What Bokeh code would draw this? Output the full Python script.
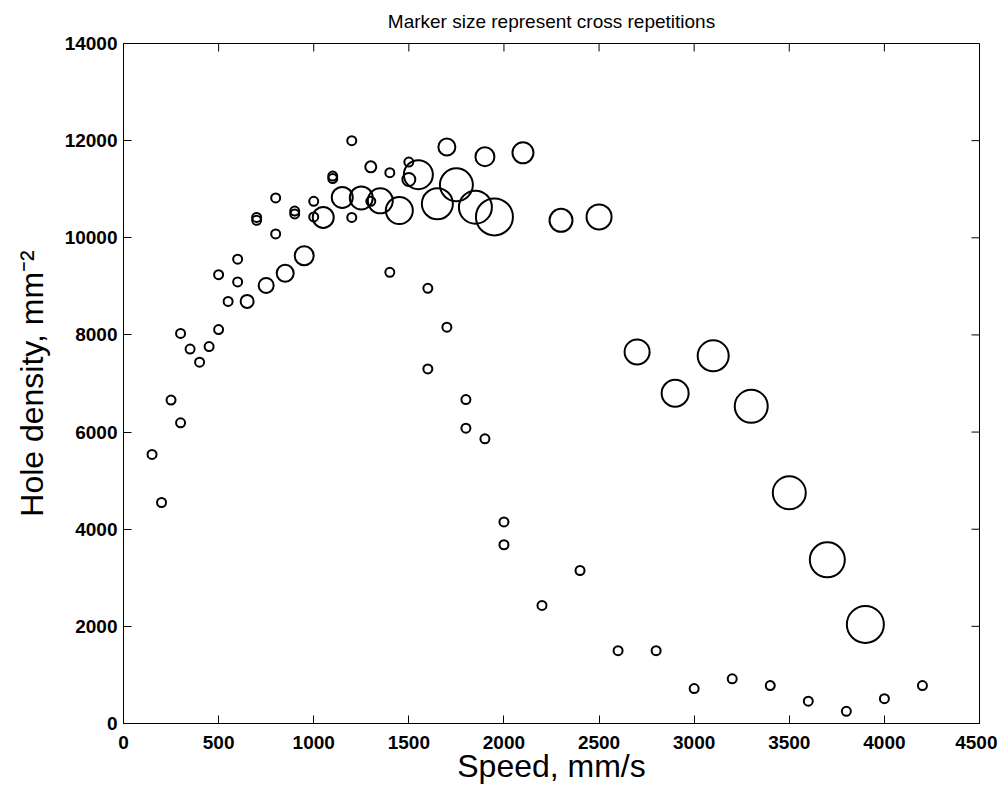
import math
from bokeh.plotting import figure
from bokeh.models import Range1d, FixedTicker, ColumnDataSource
from bokeh.embed import file_html
from bokeh.resources import INLINE

# ---- data ----
speed = [150, 200, 250, 300, 300, 350, 400, 450, 500, 500, 550, 600, 600,
         700, 700, 800, 800, 900, 900, 1000, 1000, 1100, 1100, 1200, 1200,
         1300, 1400, 1400, 1500, 1600, 1600, 1700, 1800, 1800, 1900, 2000,
         2000, 2200, 2400, 2600, 2800, 3000, 3200, 3400, 3600, 3800, 4000, 4200,
         1300,
         650, 750, 850, 950, 1050, 1150, 1250, 1350, 1450, 1550, 1650, 1750, 1850, 1950,
         1500, 1700, 1900, 2100, 2300, 2500, 2700, 2900, 3100, 3300, 3500, 3700, 3900]
density = [5540, 4550, 6660, 8030, 6190, 7710, 7440, 7760, 9240, 8110, 8690, 9560, 9090,
           10420, 10360, 10820, 10080, 10550, 10490, 10750, 10430, 11270, 11220, 12000, 10420,
           10750, 11340, 9290, 11560, 8960, 7300, 8160, 6670, 6080, 5860, 4150,
           3680, 2430, 3150, 1500, 1500, 720, 920, 780, 460, 250, 510, 780,
           11460,
           8690, 9020, 9270, 9630, 10420, 10830, 10820, 10760, 10560, 11300, 10700, 11090, 10630, 10430,
           11200, 11870, 11670, 11750, 10360, 10430, 7650, 6800, 7570, 6530, 4750, 3370, 2040]
repetitions = [1] * 48 + [2] + \
              [3, 4, 5, 6, 7, 7, 8, 9, 10, 11, 12, 13, 13, 15] + \
              [3, 5, 6, 7, 8, 9, 9, 10, 12, 13, 13, 14, 15]

x_ticks = [0, 500, 1000, 1500, 2000, 2500, 3000, 3500, 4000, 4500]
y_ticks = [0, 2000, 4000, 6000, 8000, 10000, 12000, 14000]
x_max = 4500
y_max = 14000

title_text = "Marker size represent cross repetitions"
x_label = "Speed, mm/s"
y_label = "Hole density, mm\u207b\u00b2"

FONT = "Liberation Sans"

marker_size = [7 + 2 * r for r in repetitions]
src = ColumnDataSource(dict(x=speed, y=density, s=marker_size))

p = figure(frame_width=856, frame_height=680,
           x_range=Range1d(0, x_max), y_range=Range1d(0, y_max),
           output_backend="svg", toolbar_location=None,
           min_border_left=123, min_border_right=18,
           min_border_top=43, min_border_bottom=56,
           title=title_text)

p.title.align = "center"
p.title.vertical_align = "top"
p.title.text_font = FONT
p.title.text_font_size = "19px"
p.title.text_font_style = "normal"
p.title.text_color = "black"
p.title.standoff = 20

p.xgrid.visible = False
p.ygrid.visible = False
p.outline_line_color = "black"
p.outline_line_width = 1
p.background_fill_color = "white"
p.border_fill_color = "white"

for ax, ticks in ((p.xaxis[0], x_ticks), (p.yaxis[0], y_ticks)):
    ax.ticker = FixedTicker(ticks=ticks)
    ax.minor_tick_line_color = None
    ax.major_tick_in = 8
    ax.major_tick_out = 0
    ax.major_tick_line_color = "black"
    ax.axis_line_color = "black"
    ax.major_label_text_font = FONT
    ax.major_label_text_font_size = "19px"
    ax.major_label_text_font_style = "bold"
    ax.major_label_text_color = "black"
    ax.axis_label_text_font = FONT
    ax.axis_label_text_font_size = "32px"
    ax.axis_label_text_font_style = "normal"
    ax.axis_label_text_color = "black"

p.xaxis[0].axis_label = x_label
p.yaxis[0].axis_label = y_label
p.xaxis[0].major_label_standoff = 12
p.xaxis[0].axis_label_standoff = -4
p.yaxis[0].major_label_standoff = 6
p.yaxis[0].axis_label_standoff = 12

# inward ticks on the top and right edges of the box
p.ray(x=x_ticks, y=[y_max] * len(x_ticks), length=8, length_units="screen",
      angle=-math.pi / 2, line_color="black", line_width=1)
p.ray(x=[x_max] * len(y_ticks), y=y_ticks, length=8, length_units="screen",
      angle=math.pi, line_color="black", line_width=1)

p.scatter("x", "y", size="s", source=src, marker="circle",
          fill_color=None, line_color="black", line_width=2)

open("out.html", "w").write(file_html(p, INLINE))
